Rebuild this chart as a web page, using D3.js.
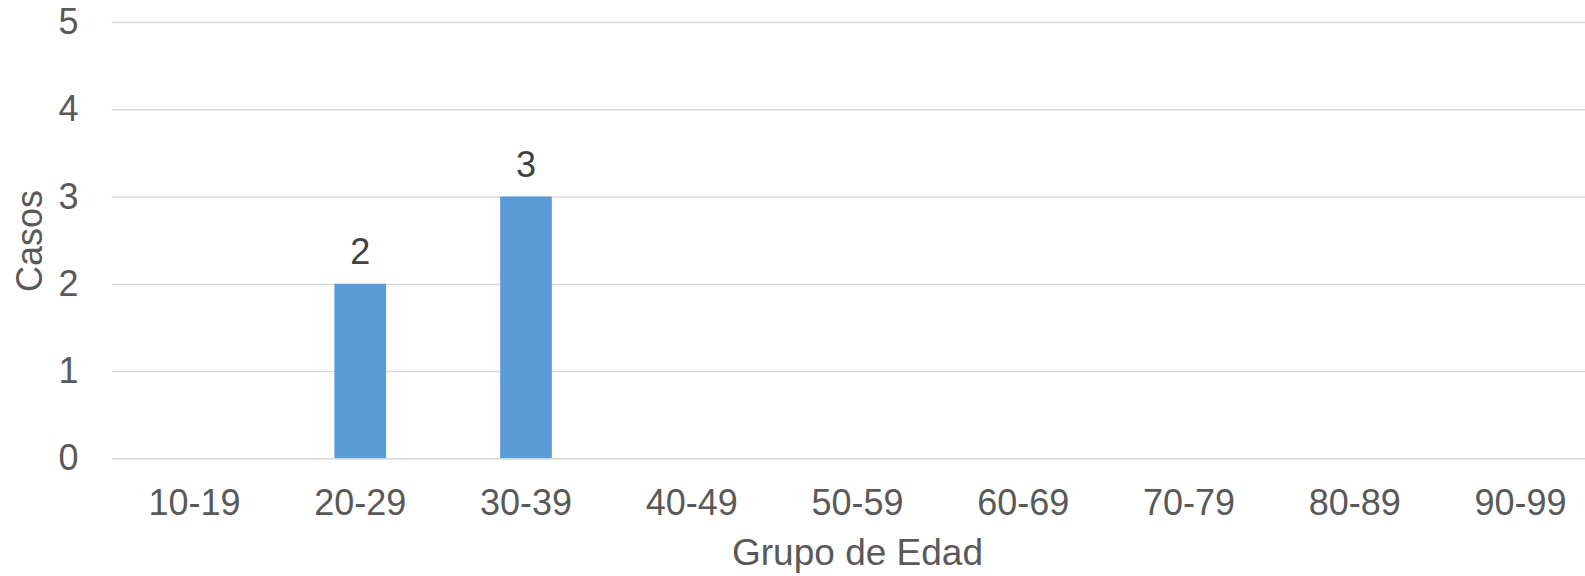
<!DOCTYPE html>
<html>
<head>
<meta charset="utf-8">
<script src="https://cdn.jsdelivr.net/npm/d3@7"></script>
<style>
  html, body { margin: 0; padding: 0; background: #fff; }
  svg { display: block; }
</style>
</head>
<body>
<svg id="chart" width="1585" height="576"></svg>
<script>
const categories = ["10-19", "20-29", "30-39", "40-49", "50-59", "60-69", "70-79", "80-89", "90-99"];
const casos = [0, 2, 3, 0, 0, 0, 0, 0, 0];
const yTicks = [0, 1, 2, 3, 4, 5];
const xTitle = "Grupo de Edad";
const yTitle = "Casos";

const W = 1585, H = 576;
const plot = { left: 111.6, right: 1603.4, top: 22, bottom: 458.3 };
const FONT = "'Liberation Sans', Arial, sans-serif";

const svg = d3.select("#chart");

const x = d3.scaleBand()
  .domain(categories)
  .range([plot.left, plot.right])
  .paddingInner(0.688)
  .paddingOuter(0.344);

const y = d3.scaleLinear()
  .domain([0, 5])
  .range([plot.bottom, plot.top]);

// gridlines
const yAxis = d3.axisLeft(y).tickValues(yTicks).tickSize(-(plot.right - plot.left)).tickFormat(d3.format("d")).tickPadding(33);
const gy = svg.append("g").attr("transform", `translate(${plot.left},0)`).call(yAxis);
gy.select(".domain").remove();
gy.selectAll(".tick line").attr("stroke", "#D9D9D9").attr("stroke-width", 1.3);
gy.selectAll(".tick text")
  .attr("fill", "#595959")
  .style("font-family", FONT)
  .style("font-size", "36px");

// bars
svg.append("g").selectAll("rect")
  .data(categories.map((c, i) => ({ c, v: casos[i] })).filter(d => d.v > 0))
  .join("rect")
  .attr("x", d => x(d.c))
  .attr("width", x.bandwidth())
  .attr("y", d => y(d.v))
  .attr("height", d => y(0) - y(d.v))
  .attr("fill", "#5B9BD5");

// data labels
svg.append("g").selectAll("text")
  .data(categories.map((c, i) => ({ c, v: casos[i] })).filter(d => d.v > 0))
  .join("text")
  .attr("x", d => x(d.c) + x.bandwidth() / 2)
  .attr("y", d => y(d.v) - 19.5)
  .attr("text-anchor", "middle")
  .attr("fill", "#404040")
  .style("font-family", FONT)
  .style("font-size", "36px")
  .text(d => d.v);

// x axis
const xAxis = d3.axisBottom(x).tickSize(0).tickPadding(0);
const gx = svg.append("g").attr("transform", `translate(0,${plot.bottom})`).call(xAxis);
gx.select(".domain").attr("stroke", "#D9D9D9").attr("stroke-width", 1.3);
gx.selectAll(".tick text")
  .attr("dy", null)
  .attr("y", 57)
  .attr("fill", "#595959")
  .style("font-family", FONT)
  .style("font-size", "36px");

// axis titles
svg.append("text")
  .attr("x", (plot.left + plot.right) / 2)
  .attr("y", 565)
  .attr("text-anchor", "middle")
  .attr("fill", "#595959")
  .style("font-family", FONT)
  .style("font-size", "37px")
  .text(xTitle);

svg.append("text")
  .attr("transform", `translate(42,241) rotate(-90)`)
  .attr("text-anchor", "middle")
  .attr("fill", "#595959")
  .style("font-family", FONT)
  .style("font-size", "36px")
  .text(yTitle);
</script>
</body>
</html>
